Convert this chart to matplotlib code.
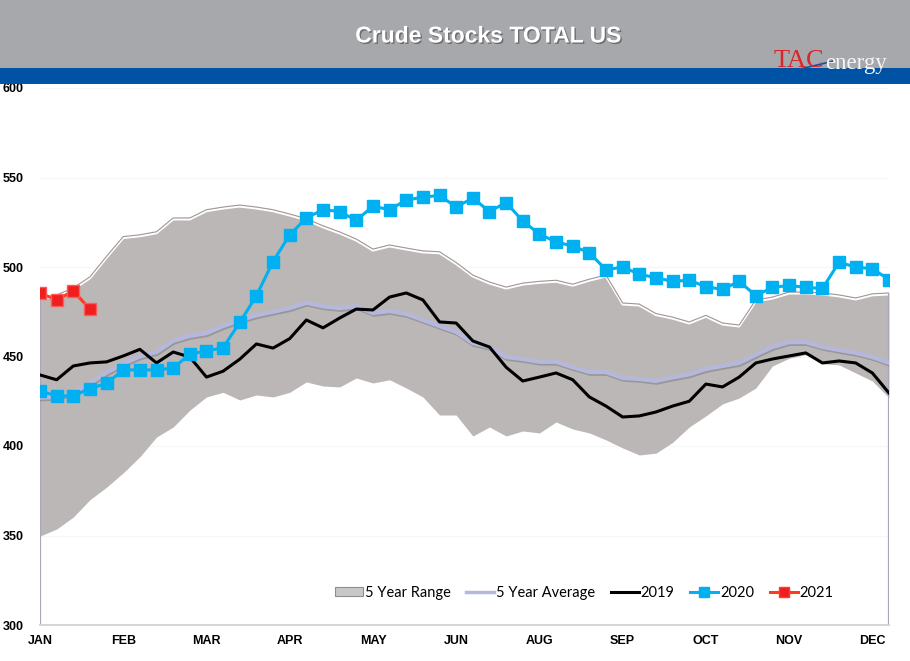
import matplotlib
matplotlib.use("Agg")
import matplotlib.pyplot as plt
import matplotlib.patheffects as pe
from matplotlib.patches import Rectangle, Patch
from matplotlib.lines import Line2D
import numpy as np

# weekly values, million barrels
months = ["JAN", "FEB", "MAR", "APR", "MAY", "JUN", "AUG", "SEP", "OCT", "NOV", "DEC"]

range_high = [482.7, 484.4, 488.3, 494.5, 506, 517, 518, 519.7, 527.4, 527.4,
              532, 533.5, 534.6, 533.5, 532, 529.6, 527, 523, 519.6, 515.6,
              510, 512.3, 510.6, 509, 508.5, 502.5, 495.5, 491.6, 488.8, 491,
              492, 492.6, 490.4, 493.2, 495.5, 479.9, 479.3, 474, 472, 469.3,
              473, 468.7, 467.6, 481.6, 483.2, 486, 486, 485.5, 484.4, 482.7,
              485, 485.5]
range_low = [349.7, 353.6, 360.3, 370, 377, 385, 394, 405, 410.6, 420,
             427.4, 430, 425.7, 428.5, 427.4, 430, 435.8, 433.5, 433, 438,
             435.2, 437, 432.4, 427.4, 417.3, 417.3, 405.6, 410.6, 405.6, 408.4,
             407.3, 413.4, 409.5, 407.3, 403.4, 398.9, 395, 396, 402, 410.6,
             416.8, 423.5, 426.8, 432.4, 444.7, 449, 451, 446, 445.3, 440.8,
             436.3, 427]
avg_5yr = [427, 427.4, 429.6, 435, 441, 446, 450, 452.5, 458.7, 461.5,
           463, 467, 470.2, 473, 475, 477, 480, 478, 477, 478,
           474.3, 475.4, 473.7, 470.4, 467, 463.7, 457.5, 455.3, 449.7, 448.6,
           447, 447, 444, 441.3, 441.3, 438, 437.4, 436.3, 438.3, 440,
           443, 444.7, 446.4, 451, 455.3, 458, 458, 455.3, 453.6, 452,
           449.7, 446.4]
y2019 = [439.7, 437, 444.7, 446.4, 447, 450.3, 454, 446.4, 452.5, 449.7,
         438.5, 441.8, 448.5, 457, 454.7, 460, 470.4, 466, 471.5, 476.5,
         476, 483.2, 485.5, 481.6, 469.3, 468.7, 458.7, 455.3, 444, 436.3,
         438.5, 440.8, 437, 427.4, 422.3, 416.2, 416.8, 419, 422.3, 425,
         434.6, 433, 438.5, 446.4, 448.6, 450.3, 452, 446.4, 447.5, 446.4,
         440.8, 429.6]
y2020 = [430.7, 428, 428, 432, 435, 442.5, 442.5, 442.5, 443.5, 451.4,
         453, 455, 469, 484, 503, 518, 527.4, 532, 531, 526,
         534, 532, 537.4, 539, 540, 533.5, 538.5, 531, 536, 525.7,
         518.4, 514, 511.7, 508, 498.4, 500, 496, 494, 492, 492.6,
         489, 487.5, 492, 484, 488.6, 489.7, 488.6, 488, 502.6, 500,
         499, 493]
y2021 = [485.5, 481.6, 486.6, 476.5]

weeks = np.arange(len(range_high))

fig = plt.figure(figsize=(9.1, 6.61), dpi=100, facecolor="white")

# header: grey band + blue stripe
fig.patches.append(Rectangle((0, 1 - 68 / 661), 1, 68 / 661, transform=fig.transFigure,
                             facecolor="#a7a8ac", edgecolor="none", zorder=0))
fig.patches.append(Rectangle((0, 1 - 84 / 661), 1, 16 / 661, transform=fig.transFigure,
                             facecolor="#0053a4", edgecolor="none", zorder=0))
fig.text(488 / 910, 1 - 36 / 661, "Crude Stocks TOTAL US", ha="center", va="center",
         color="white", fontsize=16.5, fontweight="bold", family="Liberation Sans",
         path_effects=[pe.withSimplePatchShadow(offset=(1, -1), shadow_rgbFace="#555555", alpha=0.7)])
fig.text(774 / 910, 1 - 61 / 661, "TAC", ha="left", va="center", color="#d9262b",
         fontsize=19, family="Liberation Serif")
fig.text(825 / 910, 1 - 64 / 661, "energy", ha="left", va="center", color="#f4f4f4",
         fontsize=16.5, family="Liberation Serif")
fig.lines.append(Line2D([800 / 910, 834 / 910], [1 - 69 / 661, 1 - 61 / 661],
                        transform=fig.transFigure, color="#1f4e9c", lw=1.2))

ax = fig.add_axes([40 / 910, 1 - 625 / 661, 849 / 910, 537 / 661])
ax.set_facecolor("white")

ax.fill_between(weeks, range_low, range_high, color="#bbb7b6", lw=0, zorder=1)
ax.plot(weeks, range_high, color="#a39595", lw=0.8, zorder=2,
        path_effects=[pe.SimpleLineShadow(offset=(0, -1.0), shadow_color="white", alpha=1.0, linewidth=1.6),
                      pe.Normal()])
ax.vlines([weeks[0], weeks[-1]], 300, [range_high[0], range_high[-1]],
          color="#a9a7ba", lw=1.6, zorder=2)

ax.plot(weeks, avg_5yr, color="#b5b7dc", lw=3, zorder=3, solid_capstyle="round",
        path_effects=[pe.SimpleLineShadow(offset=(0.6, -1.2), shadow_color="#777777", alpha=0.5),
                      pe.Normal()])
ax.plot(weeks, y2019, color="black", lw=2.2, zorder=4)
ax.plot(weeks, y2020, color="#00b0f0", lw=2.2, marker="s", markersize=8.5, zorder=5)
ax.plot(weeks[:len(y2021)], y2021, color="#ff3a1f", lw=2.2, marker="s", markersize=8,
        markerfacecolor="#f01e1e", markeredgecolor="#ff5a5a", zorder=6)

ax.set_xlim(0, 51)
ax.set_ylim(300, 600)
ax.set_yticks(range(300, 601, 50))
ax.set_xticks(weeks[::5])
ax.set_xticklabels(months)
ax.grid(axis="y", color="#f6f6f6", lw=0.8, zorder=0)
ax.set_axisbelow(True)

for s in ["left", "right", "top"]:
    ax.spines[s].set_visible(False)
ax.spines["bottom"].set_color("#d4d4d8")
ax.spines["bottom"].set_linewidth(1.4)
ax.tick_params(length=0)
ax.tick_params(axis="y", pad=27)
ax.tick_params(axis="x", pad=7)
for lab in ax.get_xticklabels() + ax.get_yticklabels():
    lab.set_family("Liberation Sans")
    lab.set_fontweight("bold")
    lab.set_fontsize(9)
for lab in ax.get_yticklabels():
    lab.set_ha("left")

handles = [
    Patch(facecolor="#c9c7c7", edgecolor="#8e8e8e", lw=0.8),
    Line2D([], [], color="#b5b7dc", lw=2.5),
    Line2D([], [], color="black", lw=2.2),
    Line2D([], [], color="#00b0f0", lw=2.2, marker="s", markersize=7),
    Line2D([], [], color="#ff3a1f", lw=2.2, marker="s", markersize=6.5, markerfacecolor="#f01e1e"),
]
labels = ["5 Year Range", "5 Year Average", "2019", "2020", "2021"]
ax.legend(handles, labels, loc="center", bbox_to_anchor=(0.641, 0.06), ncol=5,
          frameon=False, handlelength=1.9, handleheight=0.55, handletextpad=0.12,
          columnspacing=1.1, prop={"family": "Lato", "size": 10.5})

fig.savefig("out.png", dpi=100, facecolor="white")
